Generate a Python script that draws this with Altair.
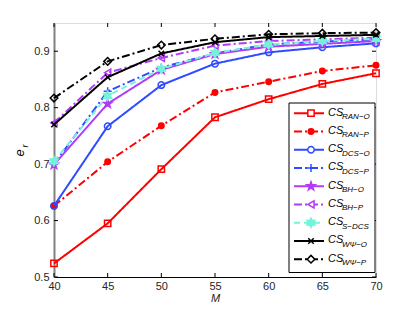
import math
import altair as alt
import pandas as pd

# ---------------- data ----------------
M = [40, 45, 50, 55, 60, 65, 70]
ran_o = [0.524, 0.595, 0.691, 0.783, 0.815, 0.842, 0.861]
ran_p = [0.626, 0.704, 0.768, 0.827, 0.846, 0.865, 0.875]
dcs_o = [0.626, 0.767, 0.840, 0.878, 0.898, 0.907, 0.914]
dcs_p = [0.700, 0.829, 0.871, 0.896, 0.912, 0.917, 0.921]
bh_o = [0.699, 0.807, 0.867, 0.895, 0.908, 0.913, 0.918]
bh_p = [0.773, 0.862, 0.888, 0.910, 0.918, 0.921, 0.924]
s_dcs = [0.705, 0.821, 0.869, 0.897, 0.912, 0.918, 0.922]
wpsi_o = [0.770, 0.854, 0.896, 0.916, 0.925, 0.927, 0.929]
wpsi_p = [0.817, 0.882, 0.911, 0.922, 0.930, 0.932, 0.933]

subs = ["RAN\u2212O", "RAN\u2212P", "DCS\u2212O", "DCS\u2212P", "BH\u2212O", "BH\u2212P",
        "S\u2212DCS", "W\u03a8\u2212O", "W\u03a8\u2212P"]
values = [ran_o, ran_p, dcs_o, dcs_p, bh_o, bh_p, s_dcs, wpsi_o, wpsi_p]

x_ticks = [40, 45, 50, 55, 60, 65, 70]
y_ticks = [0.5, 0.6, 0.7, 0.8, 0.9]


# ---------------- styles ----------------
def star(n, inner):
    pts = []
    for k in range(2 * n):
        r = 1.0 if k % 2 == 0 else inner
        a = -math.pi / 2 + k * math.pi / n
        pts.append(f"{r * math.cos(a):.3f},{r * math.sin(a):.3f}")
    return "M" + "L".join(pts) + "Z"


RED, BLUE, PURPLE, CYAN, BLACK = "#ff0000", "#2f4bff", "#b13cf5", "#74f2da", "#000000"
SOLID, DASHDOT, DASHED = [1, 0], [8, 3, 2, 3], [6, 4]
PLUS = "M-1,0L1,0M0,-1L0,1"
XMARK = "M-1,-1L1,1M-1,1L1,-1"

# (color, dash, shape, filled, size)
styles = [
    (RED, SOLID, "square", False, 40),
    (RED, DASHDOT, "circle", True, 30),
    (BLUE, SOLID, "circle", False, 42),
    (BLUE, DASHDOT, PLUS, False, 64),
    (PURPLE, SOLID, star(5, 0.4), True, 80),
    (PURPLE, DASHDOT, "triangle-left", False, 50),
    (CYAN, DASHED, star(6, 0.55), True, 85),
    (BLACK, SOLID, XMARK, False, 30),
    (BLACK, DASHDOT, "diamond", False, 58),
]

W, H = 322, 254
FONT = "Liberation Sans"

xs = alt.Scale(domain=[40, 70], nice=False, zero=False)
ys = alt.Scale(domain=[0.5, 0.95], nice=False, zero=False)
x_axis = alt.Axis(values=x_ticks, ticks=False, grid=False, labelFontSize=11,
                  labelPadding=3, domainColor="black", domainWidth=1,
                  title="M", titleFontStyle="italic", titleFontWeight="normal",
                  titleFontSize=11, titlePadding=1, labelFlush=False)
y_axis = alt.Axis(values=y_ticks, format=".1f", ticks=False, grid=False,
                  labelFontSize=11, labelPadding=5, domainColor="#808080",
                  domainWidth=2, title=None)

X = alt.X("M:Q", scale=xs, axis=x_axis)
Y = alt.Y("e:Q", scale=ys, axis=y_axis)

layers = []

# inward tick marks on all four sides
xt = pd.DataFrame({"M": x_ticks})
yt = pd.DataFrame({"e": y_ticks})
layers.append(alt.Chart(xt).mark_rule(color="black", strokeWidth=1)
              .encode(x=X, y=alt.value(H), y2=alt.value(H - 4)))
layers.append(alt.Chart(xt).mark_rule(color="black", strokeWidth=1)
              .encode(x=X, y=alt.value(0), y2=alt.value(4)))
layers.append(alt.Chart(yt).mark_rule(color="black", strokeWidth=1)
              .encode(y=Y, x=alt.value(0), x2=alt.value(4)))
layers.append(alt.Chart(yt).mark_rule(color="black", strokeWidth=1)
              .encode(y=Y, x=alt.value(W), x2=alt.value(W - 4)))

# data series
for sub, vals, (col, dash, shape, filled, size) in zip(subs, values, styles):
    df = pd.DataFrame({"M": M, "e": vals})
    layers.append(alt.Chart(df).mark_line(color=col, strokeWidth=2, strokeDash=dash)
                  .encode(x=X, y=Y))
    layers.append(alt.Chart(df).mark_point(shape=shape, size=size, stroke=col,
                                           fill=col if filled else "transparent",
                                           strokeWidth=1.5, opacity=1, fillOpacity=1)
                  .encode(x=X, y=Y))

# legend box
one = pd.DataFrame({"a": [0]})
LX0, LX1, LY0, LY1 = 235, 321, 80, 249.5
layers.append(alt.Chart(one).mark_rect(fill="white", stroke="black", strokeWidth=1)
              .encode(x=alt.value(LX0), x2=alt.value(LX1), y=alt.value(LY0), y2=alt.value(LY1)))

ROW0, DROW = 90.2, 18.25
for i, (sub, (col, dash, shape, filled, size)) in enumerate(zip(subs, styles)):
    ry = ROW0 + i * DROW
    d = pd.DataFrame({"cs": ["CS"], "sub": [sub]})
    layers.append(alt.Chart(d).mark_rule(color=col, strokeWidth=2, strokeDash=dash)
                  .encode(x=alt.value(240), x2=alt.value(270), y=alt.value(ry)))
    layers.append(alt.Chart(d).mark_point(shape=shape, size=size, stroke=col,
                                          fill=col if filled else "white",
                                          strokeWidth=1.5, opacity=1, fillOpacity=1)
                  .encode(x=alt.value(257), y=alt.value(ry)))
    layers.append(alt.Chart(d).mark_text(align="left", baseline="middle", fontSize=11,
                                         fontStyle="italic", font=FONT, color="black")
                  .encode(text="cs:N", x=alt.value(274), y=alt.value(ry - 0.5)))
    layers.append(alt.Chart(d).mark_text(align="left", baseline="middle", fontSize=8,
                                         fontStyle="italic", font=FONT, color="black")
                  .encode(text="sub:N", x=alt.value(288), y=alt.value(ry + 4)))

# y-axis title e_r
layers.append(alt.Chart(pd.DataFrame({"t": ["e"]}))
              .mark_text(angle=270, align="center", baseline="middle", fontSize=13,
                         fontStyle="italic", font=FONT, color="black")
              .encode(text="t:N", x=alt.value(-34), y=alt.value(130)))
layers.append(alt.Chart(pd.DataFrame({"t": ["r"]}))
              .mark_text(angle=270, align="center", baseline="middle", fontSize=9,
                         fontStyle="italic", font=FONT, color="black")
              .encode(text="t:N", x=alt.value(-29), y=alt.value(123)))

chart = alt.layer(*layers).properties(
    width=W, height=H,
    autosize=alt.AutoSizeParams(type="none"),
    padding={"left": 46, "top": 15, "right": 25, "bottom": 32},
).configure_view(stroke="black", strokeWidth=1).configure(
    font=FONT
).configure_axis(labelColor="#262626", titleColor="#262626", labelFont=FONT, titleFont=FONT)

chart.save("out.html", embed_options={"renderer": "svg", "actions": False})
